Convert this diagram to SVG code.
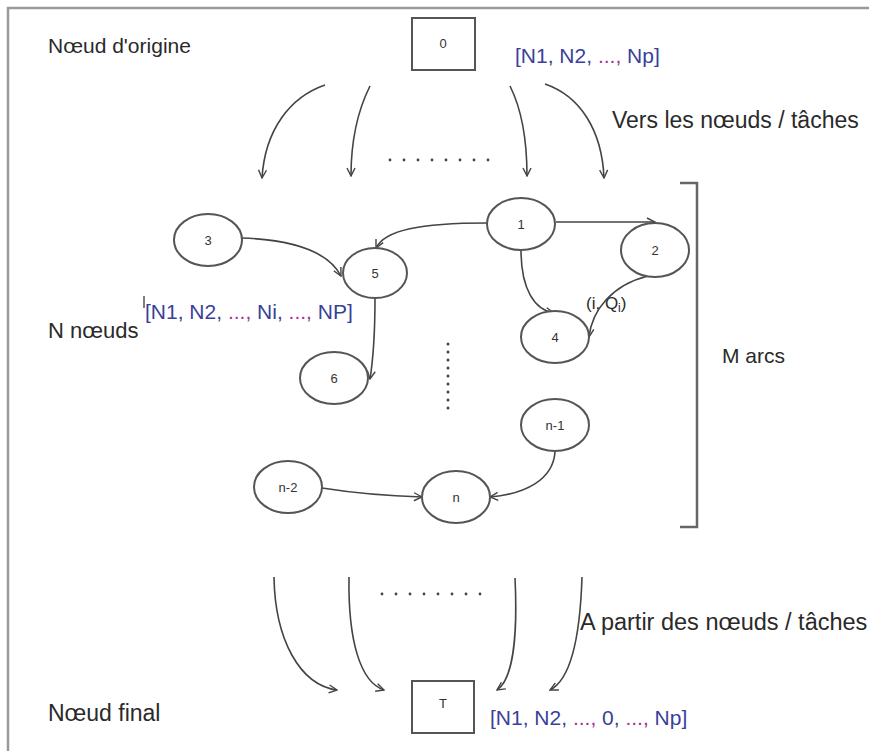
<svg xmlns="http://www.w3.org/2000/svg" width="869" height="751" viewBox="0 0 869 751">
<defs>
<marker id="ah" viewBox="0 0 10 10" refX="9" refY="5" markerWidth="10" markerHeight="10" markerUnits="userSpaceOnUse" orient="auto">
<path d="M1,1 L9,5 L1,9" fill="none" stroke="#444" stroke-width="1.4"/>
</marker>
</defs>
<style>
.lbl{font-family:"Liberation Sans",Arial,sans-serif;fill:#2a2a2a;}
.big{font-size:21px;}
.node ellipse,.node rect{fill:#fff;stroke:#555;stroke-width:2;}
.node text{font-family:"Liberation Sans",Arial,sans-serif;font-size:13px;fill:#333;text-anchor:middle;}
.conn path{fill:none;stroke:#444;stroke-width:1.6;marker-end:url(#ah);}
.vec{font-family:"Liberation Sans",Arial,sans-serif;font-size:21px;}
.b{fill:#3a3f9a;}
.m{fill:#a4309a;}
.dot{fill:#444;}
</style>
<rect x="0" y="0" width="869" height="751" fill="#fff"/>
<path d="M8,751 L8,8 L869,8" fill="none" stroke="#9a9a9a" stroke-width="2.5"/>

<text class="lbl big" x="48" y="53">Nœud d'origine</text>
<text class="lbl" x="48" y="338" font-size="22">N nœuds</text>
<text class="lbl" x="48" y="721" font-size="23">Nœud final</text>
<text class="lbl" x="612" y="128" font-size="23">Vers les nœuds / tâches</text>
<text class="lbl" x="580" y="630" font-size="23.5">A partir des nœuds / tâches</text>
<text class="lbl big" x="722" y="363">M arcs</text>
<text class="lbl" x="586" y="309" font-size="17">(i, Q<tspan font-size="12" dy="3">i</tspan><tspan dy="-3">)</tspan></text>

<text class="vec" x="515" y="63"><tspan class="b">[N1, N2, </tspan><tspan class="m">..., </tspan><tspan class="b">Np]</tspan></text>
<text class="vec" x="145" y="319"><tspan class="b">[N1, N2, </tspan><tspan class="m">..., </tspan><tspan class="b">Ni, </tspan><tspan class="m">..., </tspan><tspan class="b">NP]</tspan></text>
<line x1="144" y1="296" x2="144" y2="308" stroke="#555" stroke-width="1.5"/>
<text class="vec" x="490" y="725"><tspan class="b">[N1, N2, </tspan><tspan class="m">..., </tspan><tspan class="b">0, </tspan><tspan class="m">..., </tspan><tspan class="b">Np]</tspan></text>

<path d="M680,183 L697,183 L697,527 L680,527" fill="none" stroke="#666" stroke-width="2.5"/>

<g id="dots-top"><circle class="dot" cx="390" cy="160" r="1.4"/><circle class="dot" cx="404" cy="160" r="1.4"/><circle class="dot" cx="418" cy="160" r="1.4"/><circle class="dot" cx="432" cy="160" r="1.4"/><circle class="dot" cx="446" cy="160" r="1.4"/><circle class="dot" cx="460" cy="160" r="1.4"/><circle class="dot" cx="474" cy="160" r="1.4"/><circle class="dot" cx="488" cy="160" r="1.4"/></g>
<g id="dots-bottom"><circle class="dot" cx="382" cy="594" r="1.4"/><circle class="dot" cx="396" cy="594" r="1.4"/><circle class="dot" cx="410" cy="594" r="1.4"/><circle class="dot" cx="424" cy="594" r="1.4"/><circle class="dot" cx="438" cy="594" r="1.4"/><circle class="dot" cx="452" cy="594" r="1.4"/><circle class="dot" cx="466" cy="594" r="1.4"/><circle class="dot" cx="480" cy="594" r="1.4"/></g>
<g id="dots-vert"><circle class="dot" cx="448" cy="344" r="1.5"/><circle class="dot" cx="448" cy="352" r="1.5"/><circle class="dot" cx="448" cy="360" r="1.5"/><circle class="dot" cx="448" cy="368" r="1.5"/><circle class="dot" cx="448" cy="376" r="1.5"/><circle class="dot" cx="448" cy="384" r="1.5"/><circle class="dot" cx="448" cy="392" r="1.5"/><circle class="dot" cx="448" cy="400" r="1.5"/><circle class="dot" cx="448" cy="408" r="1.5"/></g>

<g id="connectors" class="conn">
<path d="M325,85 C290,97 265,130 262,178"/>
<path d="M370,86 C358,110 351,140 351,176"/>
<path d="M510,86 C522,110 527,140 527,176"/>
<path d="M545,84 C580,96 602,130 604,178"/>
<path d="M487,223 C420,223 385,230 376,248"/>
<path d="M242,238 C300,240 330,255 341,276"/>
<path d="M556,222 L655,222"/>
<path d="M521,250 C521,290 535,310 554,313"/>
<path d="M648,276 C612,285 592,310 589,337"/>
<path d="M375,298 C375,330 373,360 370,379"/>
<path d="M322,488 C360,494 390,496 422,497"/>
<path d="M555,452 C553,480 525,494 490,497"/>
<path d="M274,577 C275,640 300,685 337,690"/>
<path d="M349,577 C348,640 360,682 384,690"/>
<path d="M515,578 C518,640 512,680 497,690"/>
<path d="M582,577 C580,640 570,680 550,690"/>
</g>

<g id="node-0" class="node"><rect x="412" y="18" width="63" height="52"/><text x="443" y="48">0</text></g>
<g id="node-T" class="node"><rect x="412" y="681" width="62" height="52"/><text x="443" y="708">T</text></g>
<g id="node-3" class="node"><ellipse cx="208" cy="240" rx="34" ry="26"/><text x="208" y="245">3</text></g>
<g id="node-1" class="node"><ellipse cx="521" cy="224" rx="34" ry="26"/><text x="521" y="229">1</text></g>
<g id="node-5" class="node"><ellipse cx="375" cy="273" rx="32" ry="25"/><text x="375" y="278">5</text></g>
<g id="node-2" class="node"><ellipse cx="655" cy="250" rx="34" ry="27"/><text x="655" y="255">2</text></g>
<g id="node-4" class="node"><ellipse cx="555" cy="337" rx="34" ry="26"/><text x="555" y="342">4</text></g>
<g id="node-6" class="node"><ellipse cx="334" cy="378" rx="34" ry="26"/><text x="334" y="383">6</text></g>
<g id="node-n-1" class="node"><ellipse cx="555" cy="425" rx="34" ry="26"/><text x="555" y="430">n-1</text></g>
<g id="node-n-2" class="node"><ellipse cx="288" cy="487" rx="34" ry="26"/><text x="288" y="492">n-2</text></g>
<g id="node-n" class="node"><ellipse cx="456" cy="497" rx="34" ry="26"/><text x="456" y="502">n</text></g>
</svg>
